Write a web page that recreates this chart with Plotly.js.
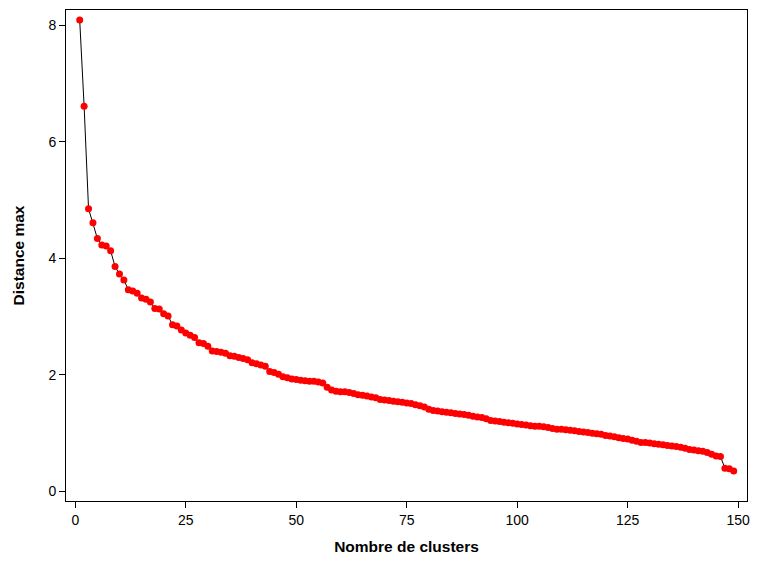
<!DOCTYPE html>
<html>
<head>
<meta charset="utf-8">
<script src="https://cdn.plot.ly/plotly-3.0.1.min.js"></script>
<style>html,body{margin:0;padding:0;background:#fff}#chart{width:760px;height:569px}</style>
</head>
<body>
<div id="chart"></div>
<script>
const distanceMax = [
  8.09, 6.61, 4.85, 4.61, 4.34, 4.23, 4.21, 4.13, 3.86, 3.73,
  3.63, 3.46, 3.44, 3.40, 3.32, 3.30, 3.25, 3.14, 3.13, 3.05,
  3.01, 2.86, 2.84, 2.77, 2.72, 2.68, 2.64, 2.55, 2.54, 2.49,
  2.41, 2.40, 2.39, 2.37, 2.33, 2.32, 2.30, 2.28, 2.26, 2.21,
  2.19, 2.17, 2.15, 2.06, 2.04, 2.01, 1.97, 1.95, 1.93, 1.92,
  1.91, 1.90, 1.89, 1.89, 1.88, 1.86, 1.79, 1.74, 1.72, 1.71,
  1.71, 1.70, 1.68, 1.66, 1.65, 1.64, 1.62, 1.61, 1.58, 1.57,
  1.56, 1.55, 1.54, 1.53, 1.52, 1.51, 1.49, 1.47, 1.45, 1.41,
  1.39, 1.38, 1.37, 1.36, 1.35, 1.34, 1.33, 1.32, 1.31, 1.29,
  1.28, 1.27, 1.25, 1.22, 1.21, 1.20, 1.19, 1.18, 1.17, 1.16,
  1.15, 1.14, 1.13, 1.12, 1.12, 1.11, 1.10, 1.08, 1.07, 1.07,
  1.06, 1.05, 1.04, 1.03, 1.02, 1.01, 1.00, 0.99, 0.98, 0.96,
  0.95, 0.94, 0.92, 0.91, 0.90, 0.88, 0.86, 0.84, 0.84, 0.83,
  0.82, 0.81, 0.80, 0.79, 0.78, 0.77, 0.76, 0.74, 0.72, 0.71,
  0.70, 0.69, 0.67, 0.64, 0.61, 0.60, 0.40, 0.39, 0.35
];
const nbClusters = distanceMax.map((_, i) => i + 1);
const xTicks = [0, 25, 50, 75, 100, 125, 150];
const yTicks = [0, 2, 4, 6, 8];
const xTitle = 'Nombre de clusters';
const yTitle = 'Distance max';

const font = 'Liberation Sans, Arial, sans-serif';
const trace = {
  x: nbClusters,
  y: distanceMax,
  type: 'scatter',
  mode: 'lines+markers',
  line: {color: '#000000', width: 1},
  marker: {color: '#FF0000', size: 7},
  hoverinfo: 'x+y'
};
const axisCommon = {
  showgrid: false,
  zeroline: false,
  showline: true,
  mirror: true,
  linecolor: '#000000',
  linewidth: 1,
  ticks: 'outside',
  ticklen: 6,
  tickwidth: 1,
  tickcolor: '#000000',
  tickmode: 'array',
  tickfont: {family: font, size: 14, color: '#000000'}
};
const layout = {
  width: 760,
  height: 569,
  paper_bgcolor: '#ffffff',
  plot_bgcolor: '#ffffff',
  showlegend: false,
  margin: {l: 66, r: 13, t: 10, b: 68},
  xaxis: Object.assign({}, axisCommon, {
    range: [-2.1, 152.0],
    tickvals: xTicks,
    ticktext: xTicks.map(String),
    title: {text: xTitle, font: {family: font, size: 15.5, color: '#000000', weight: 'bold'}, standoff: 14}
  }),
  yaxis: Object.assign({}, axisCommon, {
    range: [-0.163, 8.26],
    tickvals: yTicks,
    ticktext: yTicks.map(String),
    title: {text: yTitle, font: {family: font, size: 15.5, color: '#000000', weight: 'bold'}, standoff: 19}
  })
};
Plotly.newPlot('chart', [trace], layout, {displayModeBar: false, staticPlot: true});
</script>
</body>
</html>
